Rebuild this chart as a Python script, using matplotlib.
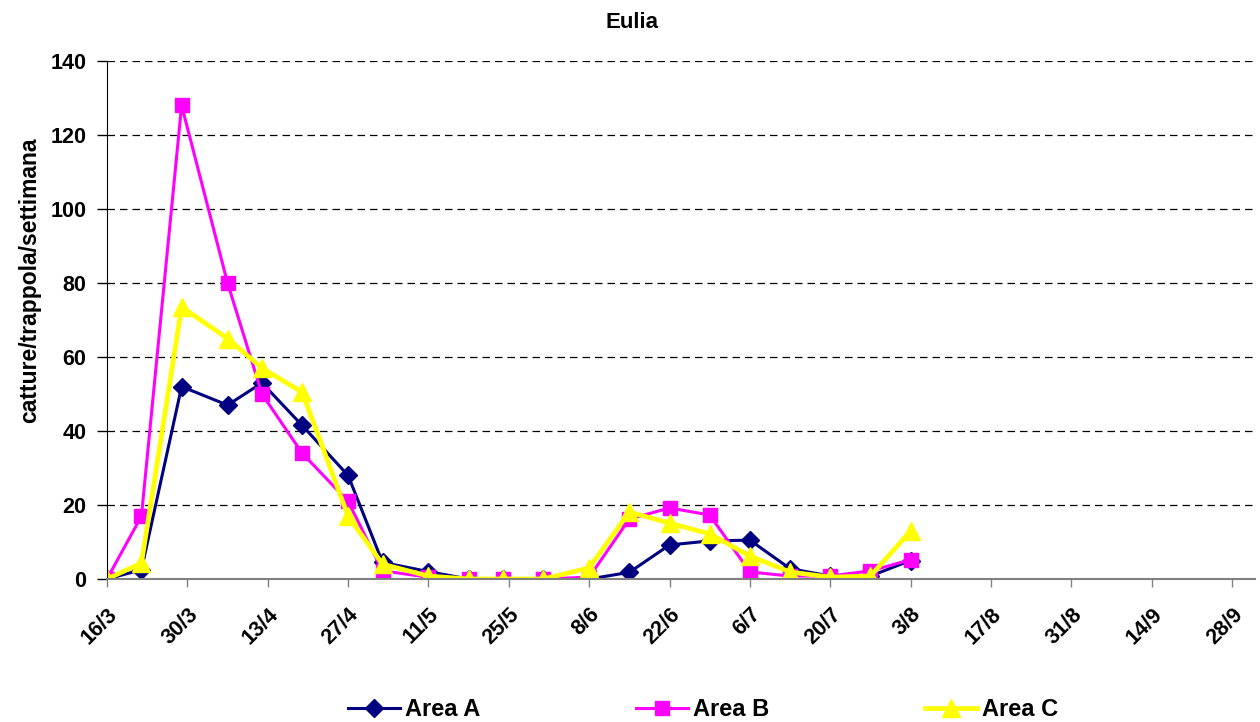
import datetime as dt
import matplotlib
matplotlib.use('Agg')
import matplotlib.pyplot as plt

plt.rcParams.update({
    'font.family': 'Liberation Sans',
    'font.weight': 'bold',
    'font.size': 14,
})

# ── dati ─────────────────────────────────────────────────────────────
DATES = ['2009-03-16', '2009-03-22', '2009-03-29', '2009-04-06', '2009-04-12',
         '2009-04-19', '2009-04-27', '2009-05-03', '2009-05-11', '2009-05-18',
         '2009-05-24', '2009-05-31', '2009-06-08', '2009-06-15', '2009-06-22',
         '2009-06-29', '2009-07-06', '2009-07-13', '2009-07-20', '2009-07-27',
         '2009-08-03']

AREA_A = [0, 2.5, 52, 47, 53, 41.5, 28, 4.5, 2, 0, 0, 0, 0,
          1.8, 9.2, 10.3, 10.5, 2.8, 0.8, 0.8, 5]
AREA_B = [0, 17, 128, 80, 50, 34, 21, 2.2, 0.5, 0, 0, 0, 0.5,
          16.2, 19.2, 17.3, 1.9, 0.8, 0.8, 2.2, 5.2]
AREA_C = [0, 4.3, 73.5, 65, 57, 50.5, 17, 4, 0.8, 0, 0, 0, 3,
          18.1, 15.1, 12.2, 6.2, 1.9, 0.5, 0.8, 13]

X_START = '2009-03-16'
X_END = '2009-10-02'
TICK_STEP_DAYS = 14

x = [dt.datetime.strptime(d, '%Y-%m-%d') for d in DATES]
x0 = dt.datetime.strptime(X_START, '%Y-%m-%d')
x1 = dt.datetime.strptime(X_END, '%Y-%m-%d')

fig = plt.figure(figsize=(12.6, 7.22), dpi=100)
ax = fig.add_axes([107 / 1260, 1 - 579 / 722, (1255 - 107) / 1260, (579 - 61) / 722])

ax.plot(x, AREA_A, color='#000080', lw=2.2, marker='D', ms=9.5, label='Area A')
ax.plot(x, AREA_B, color='#FF00FF', lw=2.2, marker='s', ms=10, label='Area B')
ax.plot(x, AREA_C, color='#FFFF00', lw=3.4, marker='^', ms=13, label='Area C')

ax.set_xlim(x0, x1)
ax.set_ylim(0, 140)
ax.set_yticks(range(0, 141, 20))
ticks = [x0 + dt.timedelta(days=TICK_STEP_DAYS * k) for k in range(15)]
ax.set_xticks(ticks)
ax.set_xticklabels([f'{t.day}/{t.month}' for t in ticks], rotation=45,
                   ha='right', va='top', rotation_mode='anchor')

ax.grid(axis='y', color='black', linestyle=(0, (6, 4)), linewidth=0.9)
ax.set_axisbelow(True)
for s in ('top', 'right'):
    ax.spines[s].set_visible(False)
ax.spines['left'].set_color('black')
ax.spines['bottom'].set_color('#808080')
ax.spines['bottom'].set_linewidth(1.5)
ax.tick_params(axis='y', direction='out', length=7, width=1, pad=8, labelsize=15.5)
ax.tick_params(axis='x', direction='out', length=6, width=1, color='#808080',
               pad=12, labelsize=15.5)

ax.set_ylabel('catture/trappola/settimana', fontsize=16.5, fontweight='bold')
ax.yaxis.set_label_coords(-66 / 1148, (579 - 280) / 518)
fig.text(632 / 1260, 1 - 23 / 722, 'Eulia', ha='center', va='center',
         fontsize=16, fontweight='bold')

fig.legend(loc='center', bbox_to_anchor=(703 / 1260, 1 - 710 / 722), ncol=3,
           frameon=False, fontsize=17, handlelength=2.2, handletextpad=0.2,
           columnspacing=6.6, borderaxespad=0)

fig.savefig('out.png', dpi=100)
